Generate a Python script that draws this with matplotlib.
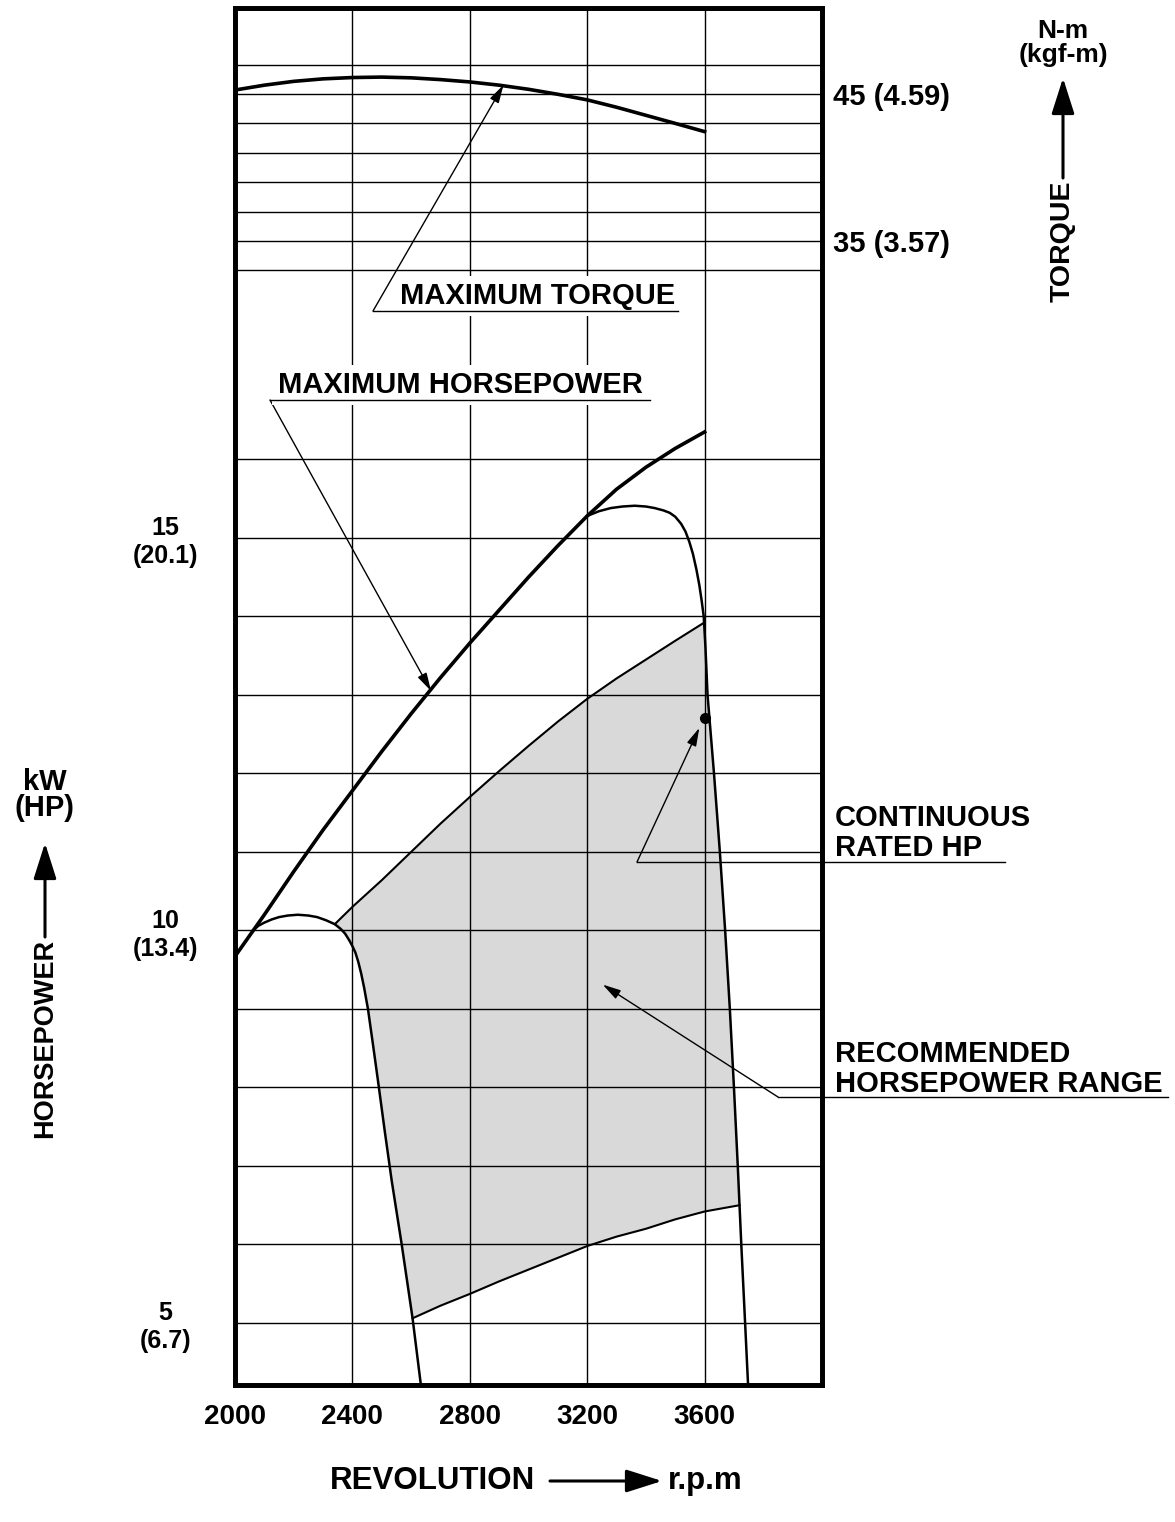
import numpy as np
import matplotlib
matplotlib.use("Agg")
import matplotlib.pyplot as plt
from matplotlib.lines import Line2D
from matplotlib.patches import FancyArrowPatch

plt.rcParams['font.family'] = ['Liberation Sans', 'DejaVu Sans']
plt.rcParams['font.weight'] = 'bold'

# ---- data ----
rpm_ticks = [2000, 2400, 2800, 3200, 3600]
kw_ticks = [5, 10, 15]
kw_labels = ['5\n(6.7)', '10\n(13.4)', '15\n(20.1)']
torque_ticks = [35, 45]
torque_labels = ['35 (3.57)', '45 (4.59)']
kw_grid = list(range(5, 17))
torque_grid = list(range(33, 48, 2))

# maximum torque (N-m)
torque_rpm = [2000, 2100, 2200, 2300, 2400, 2500, 2600, 2700, 2800, 2900,
              3000, 3100, 3200, 3300, 3400, 3500, 3600]
torque_nm = [45.27, 45.6, 45.86, 46.03, 46.12, 46.15, 46.1, 45.98, 45.82, 45.6,
             45.32, 44.98, 44.6, 44.1, 43.55, 43.0, 42.44]

# maximum horsepower (kW)
maxhp_rpm = [2000, 2100, 2200, 2300, 2400, 2500, 2600, 2700, 2800, 2900,
             3000, 3100, 3200, 3300, 3400, 3500, 3600]
maxhp_kw = [9.67, 10.2, 10.75, 11.28, 11.78, 12.28, 12.76, 13.22, 13.66, 14.08,
            14.5, 14.9, 15.28, 15.62, 15.9, 16.14, 16.35]

# left governor curve
left_rpm = [2061, 2080, 2100, 2125, 2150, 2180, 2214, 2250, 2280, 2310, 2340, 2360,
            2375, 2390, 2400, 2410, 2420, 2430, 2440, 2453, 2470, 2487, 2510, 2534,
            2568, 2605, 2633]
left_kw = [10.0, 10.06, 10.1, 10.14, 10.17, 10.19, 10.2, 10.19, 10.17, 10.13, 10.08, 10.02,
           9.96, 9.87, 9.8, 9.72, 9.6, 9.45, 9.27, 9.0, 8.55, 8.09, 7.45, 6.81,
           6.0, 5.06, 4.22]

# right governor curve
right_rpm = [3200, 3240, 3280, 3320, 3362, 3400, 3430, 3460, 3481, 3500, 3520, 3535,
             3548, 3560, 3572, 3582, 3590, 3597, 3603, 3610, 3632, 3652, 3670, 3686,
             3700, 3713, 3719, 3725, 3738, 3748]
right_kw = [15.28, 15.34, 15.38, 15.4, 15.41, 15.4, 15.38, 15.35, 15.32, 15.27, 15.18, 15.08,
            14.95, 14.8, 14.6, 14.4, 14.2, 14.0, 13.6, 13.0, 12.0, 11.0, 10.0, 9.0,
            8.0, 7.0, 6.5, 6.0, 5.0, 4.22]

# recommended range upper / lower edges
top_rpm = [2340, 2400, 2500, 2600, 2700, 2800, 2900, 3000, 3100, 3200, 3300, 3400, 3500, 3598]
top_kw = [10.08, 10.3, 10.64, 11.0, 11.36, 11.7, 12.03, 12.35, 12.66, 12.95, 13.21, 13.45, 13.69, 13.92]
low_rpm = [2605, 2700, 2800, 2900, 3000, 3100, 3200, 3300, 3400, 3500, 3600, 3719]
low_kw = [5.06, 5.22, 5.37, 5.53, 5.68, 5.83, 5.98, 6.1, 6.2, 6.32, 6.42, 6.5]

rated_rpm = 3600
rated_kw = 12.7

W, H = 1175, 1522
def fx(px):
    return px / W
def fy(py):
    return 1 - py / H

fig = plt.figure(figsize=(W / 100, H / 100), dpi=100)
ax = fig.add_axes([fx(235), fy(1385), (822 - 235) / W, (1385 - 8) / H])
ax.set_xlim(2000, 4000)
ax.set_ylim(4.21, 21.75)
ax2 = ax.twinx()
ax2.set_ylim(-42.82, 50.85)

for a in (ax, ax2):
    for s in a.spines.values():
        s.set_linewidth(3.4)

# grid
ax.hlines(kw_grid, 2000, 4000, color='black', lw=1.0, zorder=1)
ax.vlines(rpm_ticks[1:], 4.21, 21.75, color='black', lw=1.0, zorder=1)
ax2.hlines(torque_grid, 2000, 4000, color='black', lw=1.0, zorder=1)

# shaded recommended range
l_rpm = np.array(left_rpm); l_kw = np.array(left_kw)
r_rpm = np.array(right_rpm); r_kw = np.array(right_kw)
ml = (l_rpm > 2340) & (l_rpm < 2605)
mr = (r_kw < 13.92) & (r_kw > 6.5)
poly_x = np.concatenate([top_rpm, r_rpm[mr], low_rpm[::-1], l_rpm[ml][::-1]])
poly_y = np.concatenate([top_kw, r_kw[mr], low_kw[::-1], l_kw[ml][::-1]])
ax.fill(poly_x, poly_y, color='#d9d9d9', lw=0, zorder=0.5)

# curves
ax.plot(maxhp_rpm, maxhp_kw, color='black', lw=2.6, zorder=3, solid_joinstyle='round')
ax.plot(left_rpm, left_kw, color='black', lw=1.8, zorder=3, solid_joinstyle='round')
ax.plot(right_rpm, right_kw, color='black', lw=1.8, zorder=3, solid_joinstyle='round')
ax.plot(top_rpm, top_kw, color='black', lw=1.5, zorder=3)
ax.plot(low_rpm, low_kw, color='black', lw=1.5, zorder=3)
ax.plot([rated_rpm], [rated_kw], 'o', color='black', ms=7, zorder=4)
ax2.plot(torque_rpm, torque_nm, color='black', lw=2.6, zorder=3, solid_joinstyle='round')

# ticks
ax.set_xticks(rpm_ticks)
ax.set_xticklabels([str(v) for v in rpm_ticks], fontsize=20)
ax.set_yticks(kw_ticks)
ax.set_yticklabels(kw_labels, fontsize=18, multialignment='center', ha='center')
ax.tick_params(axis='x', length=0, pad=14)
ax.tick_params(axis='y', length=0, pad=50)
ax2.set_yticks(torque_ticks)
ax2.set_yticklabels(torque_labels, fontsize=21)
ax2.tick_params(axis='y', length=0, pad=8)

# callouts
small_arrow = dict(arrowstyle='-|>,head_length=1.1,head_width=0.3', color='black',
                   lw=1.0, shrinkA=0, shrinkB=0)
def underline(x0, x1, y):
    fig.add_artist(Line2D([fx(x0), fx(x1)], [fy(y), fy(y)], transform=fig.transFigure,
                          color='black', lw=1.0, zorder=5))

fig.text(fx(400), fy(296), 'MAXIMUM TORQUE', fontsize=21, va='center', ha='left',
         bbox=dict(facecolor='white', edgecolor='none', pad=4))
underline(373, 678, 311)
ax2.annotate('', xy=(2915, 45.62), xytext=(fx(373), fy(311)), textcoords='figure fraction',
             arrowprops=small_arrow, annotation_clip=False)

fig.text(fx(278), fy(385), 'MAXIMUM HORSEPOWER', fontsize=21, va='center', ha='left',
         bbox=dict(facecolor='white', edgecolor='none', pad=4))
underline(270, 650, 400)
ax.annotate('', xy=(2668, 13.05), xytext=(fx(270), fy(400)), textcoords='figure fraction',
            arrowprops=small_arrow, annotation_clip=False)

fig.text(fx(835), fy(833), 'CONTINUOUS\nRATED HP', fontsize=21, va='center', ha='left',
         linespacing=1.05)
underline(637, 1005, 862)
ax.annotate('', xy=(3582, 12.58), xytext=(fx(637), fy(862)), textcoords='figure fraction',
            arrowprops=small_arrow, annotation_clip=False)

fig.text(fx(835), fy(1069), 'RECOMMENDED\nHORSEPOWER RANGE', fontsize=21, va='center', ha='left',
         linespacing=1.05)
underline(778, 1168, 1097)
ax.annotate('', xy=(3253, 9.31), xytext=(fx(778), fy(1097)), textcoords='figure fraction',
            arrowprops=small_arrow, annotation_clip=False)

# axis titles with arrows
big_arrow = dict(arrowstyle='-|>,head_length=2.2,head_width=0.7', color='black',
                 lw=2.2, shrinkA=0, shrinkB=0, mutation_scale=10)
fig.text(fx(45), fy(1038), 'HORSEPOWER', fontsize=19.5, rotation=90, va='center', ha='center')
fig.text(fx(45), fy(795), 'kW\n(HP)', fontsize=21, va='center', ha='center', linespacing=0.95)
fig.add_artist(FancyArrowPatch((fx(45), fy(937)), (fx(45), fy(843)),
                               transform=fig.transFigure, **big_arrow))

fig.text(fx(1063), fy(241), 'TORQUE', fontsize=20.5, rotation=90, va='center', ha='center')
fig.text(fx(1063), fy(43), 'N-m\n(kgf-m)', fontsize=19, va='center', ha='center', linespacing=1.0)
fig.add_artist(FancyArrowPatch((fx(1063), fy(178)), (fx(1063), fy(78)),
                               transform=fig.transFigure, **big_arrow))

fig.text(fx(535), fy(1481), 'REVOLUTION', fontsize=22.5, va='center', ha='right')
fig.text(fx(668), fy(1481), 'r.p.m', fontsize=22.5, va='center', ha='left')
fig.add_artist(FancyArrowPatch((fx(550), fy(1481)), (fx(662), fy(1481)),
                               transform=fig.transFigure, **big_arrow))

fig.savefig('out.png', dpi=100, facecolor='white')
